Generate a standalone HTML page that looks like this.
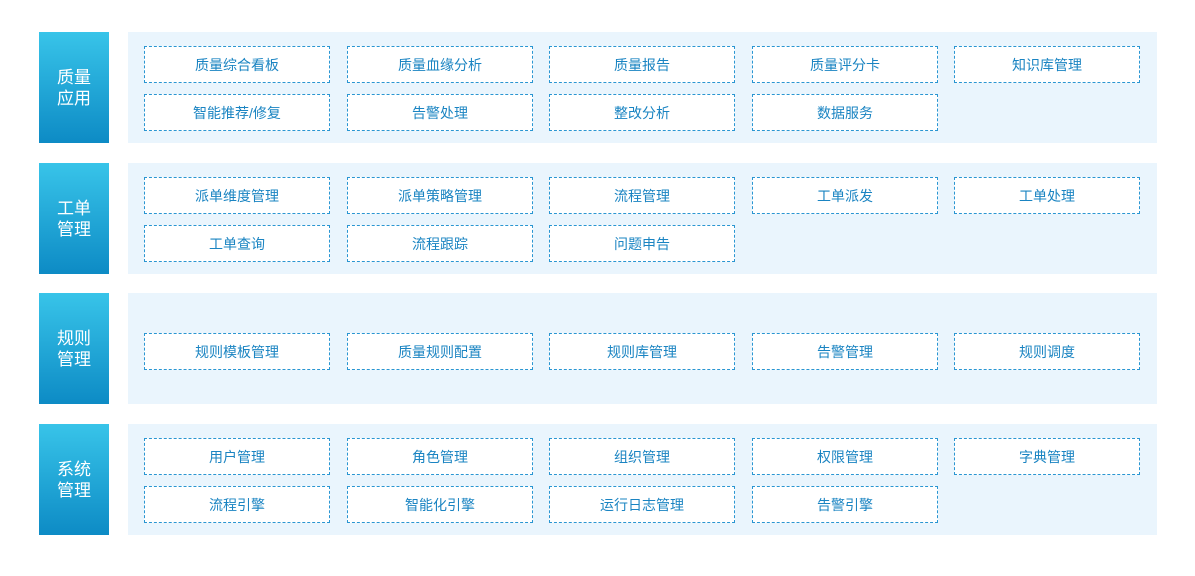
<!DOCTYPE html>
<html><head><meta charset="utf-8"><style>
body{margin:0;width:1195px;height:576px;background:#fff;position:relative;font-family:"Liberation Sans","Noto Sans CJK SC",sans-serif;overflow:hidden}
.lab{position:absolute;left:39px;width:70px;height:111px;background:linear-gradient(#38c4e9,#0d8bc5);color:#fff;font-size:17px;line-height:21px;display:flex;align-items:center;justify-content:center;text-align:center}
.pan{position:absolute;left:128px;width:1029px;height:111px;background:#eaf5fd}
.b{position:absolute;width:184px;height:35px;border:1px dashed #2a96d2;background:#fff;color:#1a84c2;font-size:14px;display:flex;align-items:center;justify-content:center}
</style></head><body>
<div class="lab" style="top:32px">质量<br>应用</div><div class="pan" style="top:32px"></div>
<div class="lab" style="top:163px">工单<br>管理</div><div class="pan" style="top:163px"></div>
<div class="lab" style="top:293px">规则<br>管理</div><div class="pan" style="top:293px"></div>
<div class="lab" style="top:424px">系统<br>管理</div><div class="pan" style="top:424px"></div>

<div class="b" style="left:144px;top:46px">质量综合看板</div>
<div class="b" style="left:347px;top:46px">质量血缘分析</div>
<div class="b" style="left:549px;top:46px">质量报告</div>
<div class="b" style="left:752px;top:46px">质量评分卡</div>
<div class="b" style="left:954px;top:46px">知识库管理</div>
<div class="b" style="left:144px;top:94px">智能推荐/修复</div>
<div class="b" style="left:347px;top:94px">告警处理</div>
<div class="b" style="left:549px;top:94px">整改分析</div>
<div class="b" style="left:752px;top:94px">数据服务</div>

<div class="b" style="left:144px;top:177px">派单维度管理</div>
<div class="b" style="left:347px;top:177px">派单策略管理</div>
<div class="b" style="left:549px;top:177px">流程管理</div>
<div class="b" style="left:752px;top:177px">工单派发</div>
<div class="b" style="left:954px;top:177px">工单处理</div>
<div class="b" style="left:144px;top:225px">工单查询</div>
<div class="b" style="left:347px;top:225px">流程跟踪</div>
<div class="b" style="left:549px;top:225px">问题申告</div>

<div class="b" style="left:144px;top:333px">规则模板管理</div>
<div class="b" style="left:347px;top:333px">质量规则配置</div>
<div class="b" style="left:549px;top:333px">规则库管理</div>
<div class="b" style="left:752px;top:333px">告警管理</div>
<div class="b" style="left:954px;top:333px">规则调度</div>

<div class="b" style="left:144px;top:438px">用户管理</div>
<div class="b" style="left:347px;top:438px">角色管理</div>
<div class="b" style="left:549px;top:438px">组织管理</div>
<div class="b" style="left:752px;top:438px">权限管理</div>
<div class="b" style="left:954px;top:438px">字典管理</div>
<div class="b" style="left:144px;top:486px">流程引擎</div>
<div class="b" style="left:347px;top:486px">智能化引擎</div>
<div class="b" style="left:549px;top:486px">运行日志管理</div>
<div class="b" style="left:752px;top:486px">告警引擎</div>
</body></html>
